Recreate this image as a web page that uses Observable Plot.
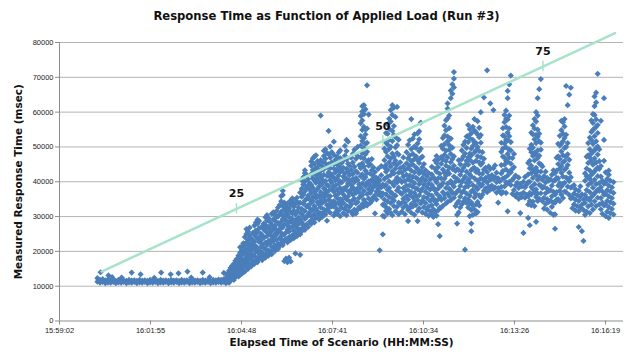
<!DOCTYPE html>
<html><head><meta charset="utf-8">
<script src="https://cdn.jsdelivr.net/npm/d3@7"></script>
<script src="https://cdn.jsdelivr.net/npm/@observablehq/plot@0.6"></script>
<style>
body{margin:0;background:#fff;font-family:"DejaVu Sans",sans-serif;}
#title{width:635px;height:30px;box-sizing:border-box;padding:9px 0 0 18px;text-align:center;font:bold 11.6px/14px "DejaVu Sans",sans-serif;color:#111;}
#chart svg{display:block;}
</style></head><body>
<div id="title">Response Time as Function of Applied Load (Run #3)</div>
<div id="chart"></div>
<script>
// x: seconds elapsed since 15:59:02 ; each column: [seconds, values in thousands of msec...]
const xTicks = [0, 172.8, 345.6, 518.4, 691.2, 864, 1036.8];
const xTickLabels = ["15:59:02","16:01:55","16:04:48","16:07:41","16:10:34","16:13:26","16:16:19"];
const yTicks = [0,10000,20000,30000,40000,50000,60000,70000,80000];

const baseline = [
[72,11.3,12.3],[77,11.0,11.8],[82,11.2,12.0],[87,10.9,11.7],[92,11.1,11.9],[97,11.0,11.6],
[102,11.2,11.9],[107,10.9,11.5],[112,11.1,11.8],[117,11.0,11.6],[122,11.2,11.7],[127,10.9,11.5],
[132,11.1,11.8],[137,11.0,11.6],[142,11.2,11.7],[147,10.9,11.5],[152,11.1,11.8],[157,11.0,11.6],
[162,11.2,11.7],[167,10.9,11.5],[172,11.1,11.8],[177,11.0,11.6],[182,11.2,11.7],[187,10.9,11.5],
[192,11.1,11.8],[197,11.0,11.6],[202,11.2,11.7],[207,10.9,11.5],[212,11.1,11.8],[217,11.0,11.6],
[222,11.2,11.7],[227,10.9,11.5],[232,11.1,11.8],[237,11.0,11.6],[242,11.2,11.7],[247,10.9,11.5],
[252,11.1,11.8],[257,11.0,11.6],[262,11.2,11.7],[267,10.9,11.5],[272,11.1,11.8],[277,11.0,11.6],
[282,11.2,11.7],[287,10.9,11.5],[292,11.1,11.8],[297,11.0,11.7],[302,11.2,11.9],[307,11.0,11.8],[312,11.2,12.0]
];
const baselineOutliers = [
[78,14.0],[93,13.1],[100,12.6],[118,12.5],[137,13.9],[154,13.4],[180,12.4],[193,13.9],
[211,13.4],[226,13.7],[243,14.2],[250,12.5],[272,13.9],[285,12.6],[312,13.8]
];
const ramp = [
[316,10.9,11.8,12.3,13.5],[319,11.3,12.6,13.1],[322,11.0,12.2,13.6,14.4],[325,11.7,12.9,14.8,15.3],
[328,12.1,13.2,14.1,15.9],[331,11.8,13.7,14.5,16.4],[334,12.6,13.4,15.2,16.1,17.3],[337,13.0,14.6,15.7,17.9],
[340,12.8,14.1,16.3,17.0,18.8],[343,13.9,15.4,16.0,18.2,19.6,21.2],[346,13.5,14.8,17.4,18.9,20.3],
[349,14.6,15.8,16.7,19.5,21.7,22.3],[352,14.2,16.4,17.9,20.0,21.1,24.1],[355,15.5,17.0,18.4,19.1,22.6,25.0,26.4],
[358,15.0,16.1,18.9,20.7,21.9,23.4,25.7],[361,16.2,17.7,19.6,22.3,24.5,26.8],[364,15.7,18.3,20.2,21.4,23.8],
[367,16.8,17.4,19.0,22.0,23.1,25.3],[370,16.4,18.7,20.9,22.8,24.9,27.4],[373,17.3,19.9,21.5,24.2,26.0,28.3],
[376,16.9,18.1,20.4,23.6,25.5,27.9,29.1],[379,17.8,19.3,22.7,24.0,26.6,28.7],[382,18.5,20.0,21.2,23.2,25.1],
[385,17.5,19.6,22.1,24.6,27.2],[388,18.9,21.0,23.9,26.3,28.0],[391,18.2,20.6,22.5,25.8,27.6,29.8],
[394,19.4,21.8,24.4,26.9,28.9,30.4],[397,18.8,20.3,23.0,25.2,27.0,29.5],[400,19.9,22.4,24.7,26.1,28.4],
[403,19.2,21.3,23.5,25.9,27.7,30.8],[406,20.5,22.9,24.1,26.6,29.2,31.2],[409,20.1,21.7,25.0,27.3,28.8,30.5],
[412,21.1,23.4,24.8,26.2,29.9,31.6],[415,20.7,22.2,25.6,28.1,30.0,32.6],[418,21.5,23.7,26.4,27.6,30.7,33.3],
[421,22.4,24.3,25.3,28.5,31.4,34.4,35.9],[424,21.8,23.1,26.9,29.3,30.3,33.0,36.2,37.4],
[427,17.2,22.9,24.9,27.7,29.6,32.1,34.0],[430,17.9,23.6,25.4,28.9,31.0,32.9],[433,16.9,22.6,26.3,27.5,30.4,31.9,33.8],
[436,18.2,24.1,25.7,28.3,29.8,32.4],[439,17.1,23.3,26.8,28.6,31.3,33.5,34.6],[442,24.6,27.1,29.4,30.9,33.9,35.2],
[445,23.8,25.9,28.0,31.7,32.8,34.9],[448,19.4,25.1,27.4,29.0,30.6,33.6],[451,24.4,26.6,28.8,31.5,34.2,35.4],
[454,25.5,27.8,29.7,32.6,33.8],[457,19.0,24.9,26.3,29.2,31.1,34.0,36.9],[460,25.8,28.4,30.8,32.2,35.7,38.0,40.4],
[463,26.9,27.6,30.1,33.7,36.4,39.2,41.3],[466,26.2,29.3,31.6,34.6,37.3,40.0,42.5,43.3],
[469,27.7,29.8,32.9,35.1,38.4,41.6,42.0],[472,27.0,30.6,33.2,36.0,38.9,40.7],[475,28.5,31.2,32.4,34.9,37.7,39.6],
[478,27.9,30.0,33.9,36.8,39.1,42.2,44.6,45.8],[481,29.1,31.9,34.4,35.6,38.3,41.0,43.4,46.7],
[484,28.3,30.7,33.0,37.2,40.4,42.9,45.1,47.2],[487,29.6,32.3,35.3,36.4,39.7,41.9,44.0,47.6],
[490,30.3,31.5,34.1,37.9,40.9,43.8,45.9],[493,29.2,33.4,35.8,38.6,39.8,42.4,44.9],
[496,30.9,32.6,34.7,37.0,41.3,43.1,46.2,59.0],[499,29.9,33.9,36.3,39.4,40.6,44.4,45.7],
[502,31.4,32.1,35.5,38.1,42.0,43.6,47.4,48.9],[505,30.6,34.5,36.9,37.6,40.2,45.3,46.6,49.3],
[508,28.8,31.8,33.3,36.1,39.0,41.7,44.2,48.2],[511,32.4,34.8,37.4,38.8,42.7,45.0,47.9,54.6],
[514,31.1,33.6,35.9,40.5,41.4,43.9,46.9,50.1],[517,32.9,34.2,37.9,39.7,42.1,45.6,48.5]
];
const plateau = [
[521,30.3,32.9,34.4,37.1,38.6,41.2,43.8,45.1,47.7,51.5],[524,31.2,33.6,36.0,38.9,40.4,42.7,46.3],
[527,30.8,32.2,35.3,37.7,40.9,43.5,44.9,47.2],[530,31.7,34.1,36.6,39.4,41.8,45.6,48.4],
[533,30.1,33.3,35.0,38.2,40.1,42.9,44.2,46.8,49.0],[536,32.5,34.8,37.3,39.8,43.1,45.4],
[539,31.0,33.9,36.4,38.0,41.5,44.0,46.1],[542,32.2,35.6,37.9,40.7,42.4,47.5,50.3],
[545,30.4,33.1,34.9,38.6,41.0,43.7,46.4,48.8,52.0],[548,31.6,35.8,37.2,39.6,42.8,45.2,51.5],
[551,32.8,34.3,36.9,40.3,41.9,44.6],[554,31.3,33.5,37.8,39.1,43.4,46.9],
[557,30.6,34.7,36.3,38.4,40.8,42.2,45.5,48.0],[560,32.0,35.1,37.5,39.9,44.3,49.2],
[563,30.9,33.8,36.8,41.1,43.0,46.6],[566,31.9,34.2,38.1,40.5,42.6,47.4,50.0],[569,32.7,35.4,37.0,39.3,44.8],
[572,32.4,35.9,38.3,41.6,43.9,47.0,50.4,53.1,56.8,58.9],[575,33.6,36.2,39.5,42.1,45.3,48.2,51.7,54.9,57.6,60.2,61.7],
[578,32.9,34.8,37.4,40.8,44.4,46.7,49.6,52.5,55.8,59.4,62.0],[581,34.1,38.8,41.3,43.2,47.9,50.9,53.6,55.0,60.8],
[584,33.2,36.5,39.7,42.5,45.8,48.6,51.2,55.3,67.7],[587,35.2,37.9,40.1,44.6,46.2,59.3],[590,33.9,36.8,39.0,42.3,45.0],
[593,34.5,37.6,40.6,43.3,46.5],[596,35.6,38.5,39.8,41.7,44.1],[599,30.9,36.1,38.9,40.2,42.8],[602,34.9,37.2,39.4,41.1],
[605,36.4,38.1,39.6,40.9,43.7],[608,20.3,37.0,38.7,40.4],[611,35.8,38.4,41.9,44.5],[614,24.9,30.2,33.4,36.7,39.2],
[617,30.0,33.4,34.9,38.7,40.8,44.1,46.2,49.5],[620,31.6,32.7,36.4,39.1,42.9,44.8,48.6,51.2,54.0],
[623,30.9,34.3,37.7,41.5,43.5,47.3,50.7,53.8,56.5],[626,32.2,35.6,38.2,40.1,45.6,49.4,52.1,55.2,58.1],
[629,31.1,33.9,37.0,41.9,44.4,46.7,50.0,57.3,60.6],[632,30.4,35.2,36.6,39.6,43.0,48.1,51.7,54.6,59.2,62.0],
[635,33.0,34.6,38.9,42.4,45.3,47.2,53.4,56.0,61.3],[638,31.5,36.0,40.4,43.8,46.1,49.9,52.8,58.6],
[641,32.8,37.5,39.8,41.2,44.9,48.2,50.5,61.5],[644,30.7,34.0,38.3,42.6,47.8,52.1],[647,33.6,36.9,40.5,43.9,45.6],
[650,31.4,33.9,36.5,39.9,42.6],[653,32.6,35.1,38.2,41.5,44.4,47.0],[656,30.7,34.0,37.3,40.2,43.4],
[659,33.0,35.9,38.9,42.0,45.3,48.5],[662,28.7,31.9,34.9,37.6,40.7,43.9,46.7,50.6],
[665,32.4,36.2,39.0,41.8,44.6,47.6,51.9],[668,31.1,33.6,37.0,40.3,43.2,45.9,49.4,58.0],
[671,32.9,35.5,38.5,41.4,44.9,48.0,52.4],[674,30.5,34.4,36.8,39.6,42.7,46.5,50.1,53.6],
[677,33.3,35.8,38.1,41.2,44.1,47.3,49.7],[680,28.7,31.6,34.7,37.9,40.8,43.6,46.2,51.0,53.9],
[683,32.3,36.1,39.3,42.4,45.4,48.8,52.2,54.5],[686,33.8,37.2,40.1,43.0,46.8,49.5,57.0],
[689,31.2,34.6,38.0,41.1,44.2,47.2],[692,32.7,35.6,39.2,42.3,45.1],[695,30.8,33.9,37.1,40.4,43.3],
[698,31.9,35.3,38.4,41.6],[701,30.2,32.9,36.4,39.5,42.5],[704,31.5,34.5,37.8,40.7],
[707,30.6,33.2,36.0,39.1,42.1,44.3],[710,29.9,32.1,35.2,38.3,41.3],[713,31.4,34.3,37.5,40.6,43.7,46.1],
[716,30.3,33.6,36.6,39.8,42.9,45.4,47.4],[719,27.8,31.8,34.9,38.0,41.0,44.2,46.3],[722,24.4,32.5,35.8,38.9,42.3],
[725,32.6,34.8,38.9,41.0,45.2,47.1,50.3],[728,33.1,37.0,39.6,43.5,46.4,49.5,52.6],
[731,35.3,36.4,40.9,42.6,47.7,50.8,53.3,56.1],[734,33.8,38.2,41.8,44.6,45.9,48.9,54.8,57.7],
[737,34.2,36.6,39.4,43.0,47.0,51.6,53.0,58.2,61.0,62.5],[740,35.9,38.0,42.3,44.1,49.2,50.5,55.4,59.0],
[743,34.7,37.5,40.2,45.6,48.0,52.4,64.0,66.2],[746,36.8,39.3,43.7,46.5,49.8,65.3,68.0],
[749,35.4,38.6,41.5,44.6,47.3,67.1,69.6,71.5],[752,33.0,36.6,40.0,43.1],[755,28.0,30.5,33.8,37.2,40.8,43.6],
[758,31.2,34.4,37.6,40.3,43.4,46.2],[761,32.6,35.7,38.8,42.0,45.0],[764,33.5,36.9,39.9,43.1,46.5,49.0],
[767,34.3,37.3,40.7,44.0,47.3,50.6],[770,20.5,35.2,38.4,41.5,44.8,48.1,51.5],[773,33.9,36.6,39.7,42.9,46.0,49.7,53.0],
[776,32.6,34.9,38.7,40.6,44.9,47.0,51.4,53.2,56.3],[779,30.1,33.8,36.0,39.9,42.1,46.3,48.1,52.5,55.1],
[782,25.8,28.0,31.9,34.1,37.2,41.5,43.4,47.6,49.5,53.9],[785,30.5,33.2,37.6,39.0,43.8,45.5,50.3,52.0,55.8],
[788,32.0,35.5,36.9,41.0,44.0,48.4,51.3,54.7,58.0],[791,30.9,33.5,36.4,38.5,42.8,46.0,49.0,51.1,54.2],
[794,31.3,34.2,37.9,40.3,43.4,47.3,50.0,53.6,57.4],[797,33.2,36.1,39.5,42.4,45.6,48.8,52.8,55.5],
[800,35.5,38.8,41.0,44.9,47.1,51.2,53.4,60.0],[803,36.3,39.2,42.3,45.4,48.5],[806,37.4,40.4,43.5,46.6,64.2],
[809,38.1,41.1,44.0],[812,37.0,39.8,42.8,72.0],[815,38.6,41.6,44.4],[818,37.7,40.6,43.7,62.5],[821,38.9,41.9],
[824,37.9,40.8,43.9,60.6],[827,38.4,41.3,44.7],[830,36.9,39.9,42.6],[833,34.0,38.2,41.0],[836,37.2,40.1],
[839,36.6,38.5,42.4,44.8,48.6,51.2],[842,37.0,40.9,43.1,47.2,49.5,53.3,55.4],
[845,38.7,41.1,44.9,47.0,51.0,53.1,57.1,59.2],[848,36.8,39.8,43.5,46.0,49.9,52.0,55.7,58.0,60.4],
[851,31.5,39.5,41.8,45.7,48.0,51.9,54.1,57.9,64.0,66.1],[854,40.0,42.9,46.9,49.2,53.1,55.3,59.0,68.0],
[857,39.1,42.7,45.2,49.0,51.4,70.5],[860,36.5,40.6,43.7,46.8],[863,37.6,41.1,44.2,48.0],
[866,35.8,38.9,41.8],[869,36.6,39.7],[872,35.1,38.2,41.2],[875,31.0,36.4,39.4],[878,35.6,38.7],
[881,25.3,36.9,40.0],[884,35.4,38.4,41.4],[887,36.2,39.2],
[890,29.6,33.5,35.8,39.9,42.1,45.4],[893,27.5,34.5,36.8,40.0,43.9,46.0,49.5],
[896,33.2,36.4,38.5,42.5,44.6,48.5,50.6,54.1],[899,34.3,37.9,41.1,43.4,47.4,49.8,53.6,56.2],
[902,33.0,36.9,39.3,42.9,46.1,48.3,52.2,55.3,58.0],[905,28.5,35.6,37.8,41.9,44.0,47.9,51.1,53.5,57.3,60.0],
[908,34.5,36.6,40.6,43.0,46.8,49.0,52.9,55.0,59.0,64.0],[911,35.1,39.1,41.4,45.3,47.5,51.6,53.8,66.6],
[914,36.7,38.9,42.9,45.0,49.2,51.2,69.5],[917,34.4,38.2,40.6,44.4],
[920,32.3,35.4,38.5,41.6],[923,33.6,36.7,39.8,42.9],[926,32.0,35.0,38.0,41.1],[929,34.2,37.3,40.3],
[932,31.1,34.6,37.6,40.7],[935,32.8,35.8,38.9,42.0],[938,30.5,34.0,37.1,40.2,43.3],
[941,26.5,30.6,34.0,36.3,40.4,42.5],[944,34.8,37.0,41.1,43.2,46.9],[947,35.0,38.9,41.0,45.1,47.3,50.9],
[950,34.4,37.4,39.6,43.8,46.5,50.4,53.2],[953,36.3,38.6,42.6,44.5,48.7,50.9,54.8,57.5],
[956,35.3,39.4,41.5,45.6,47.6,51.6,53.8,57.1],[959,37.2,39.7,43.5,45.9,49.7,52.6,55.9,58.0],
[962,37.0,41.2,43.9,47.2,50.0,53.5,67.5],[965,38.6,40.9,44.8,47.9,51.1,62.0],[968,36.2,40.2,42.6,46.3,65.0],
[971,35.2,38.3,41.3,67.0],[974,32.4,35.5,38.6],[977,33.5,36.6,39.0],[980,31.7,34.8,37.8],[983,33.0,36.1],
[986,27.0,31.5,34.5,37.4],[989,32.6,35.7,38.7],[992,25.8,33.4,36.4],[995,23.0,31.9,34.9],
[998,30.5,33.9,36.2,40.3,42.4],[1001,31.4,35.3,37.6,41.6,43.8,47.2],[1004,32.9,35.0,39.1,41.3,45.4,47.6,51.1],
[1007,31.0,34.7,37.0,40.8,43.2,46.9,49.3,52.7],[1010,33.4,35.6,39.7,42.0,45.9,48.1,52.0,54.3,57.6],
[1013,32.0,36.2,38.3,42.5,44.9,48.7,50.9,54.9,56.9,59.4],[1016,34.4,36.6,40.6,43.0,46.7,49.0,53.1,55.3,59.2,61.7,64.5],
[1019,33.0,37.2,39.3,43.6,45.5,49.7,51.6,55.8,57.9,62.8,65.6],[1022,35.4,37.7,41.6,44.0,47.8,50.1,54.0,56.3,71.0],
[1025,33.5,37.4,39.6,43.7,45.9,49.3],[1028,32.1,35.3,38.4,41.5,44.5,57.5],[1031,30.8,34.0,37.2,40.3],
[1034,33.2,36.3,39.4,46.0,52.0,64.0],[1037,30.1,33.4,36.5,39.7,42.7],[1040,31.4,34.5,37.6,40.8],
[1043,29.6,32.7,35.8,38.9,42.0,43.2],[1046,31.0,34.1,37.2,40.3],[1049,32.2,35.3,38.4],[1052,30.6,33.7,36.8,39.9]
];
const loadLine = [{t:80, v:14200}, {t:1055, v:82700}];
const loadMarks = [{label:"25", t:336, v:32200}, {label:"50", t:614, v:51700}, {label:"75", t:918, v:73100}];

const points = [];
for (const col of [...baseline, ...baselineOutliers, ...ramp, ...plateau]) {
  const [t, ...vals] = col;
  for (const v of vals) points.push({t, v: v * 1000});
}
points.sort((a, b) => a.t - b.t);

const gridColor = "#b4b4b4", axisColor = "#8c8c8c", green = "#a6e3c9";
const chart = Plot.plot({
  width: 635, height: 328,
  marginLeft: 59, marginRight: 12, marginTop: 12, marginBottom: 37.5,
  style: {fontFamily: "DejaVu Sans, sans-serif", background: "#fff"},
  x: {type: "linear", domain: [0, 1071]},
  y: {domain: [0, 80000]},
  marks: [
    Plot.gridY(yTicks.slice(1), {stroke: gridColor, strokeOpacity: 1}),
    Plot.ruleX([0], {stroke: axisColor}),
    Plot.ruleY([0], {stroke: axisColor}),
    Plot.axisY(yTicks, {tickSize: 4, tickPadding: 2, tickFormat: d => String(d), label: null,
      stroke: axisColor, fill: "#222", fontSize: 7.5, fontFamily: "Liberation Sans, sans-serif"}),
    Plot.axisX(xTicks, {tickSize: 4, tickPadding: 3, tickFormat: d => xTickLabels[xTicks.indexOf(d)], label: null,
      stroke: axisColor, fill: "#222", fontSize: 7.5, fontFamily: "Liberation Sans, sans-serif"}),
    Plot.dot(points, {x: "t", y: "v", symbol: "diamond2", r: 2.8, fill: "#4a7ebb"}),
    Plot.line(loadLine, {x: "t", y: "v", stroke: green, strokeWidth: 2.5}),
    Plot.ruleX(loadMarks, {x: "t", y1: d => d.v - 1500, y2: d => d.v + 1500, stroke: green, strokeWidth: 1.5}),
    Plot.text(loadMarks, {x: "t", y: "v", text: "label", dy: -15, fontWeight: "bold", fontSize: 11, fill: "#111"}),
    Plot.text(["Measured Response Time (msec)"], {frameAnchor: "left", text: d => d, rotate: -90, dx: -41,
      textAnchor: "middle", fontSize: 10.5, fontWeight: "bold", fill: "#111"}),
    Plot.text(["Elapsed Time of Scenario (HH:MM:SS)"], {frameAnchor: "bottom", text: d => d, dy: 25,
      textAnchor: "middle", fontSize: 10.5, fontWeight: "bold", fill: "#111"})
  ]
});
document.getElementById("chart").appendChild(chart);
</script></body></html>
